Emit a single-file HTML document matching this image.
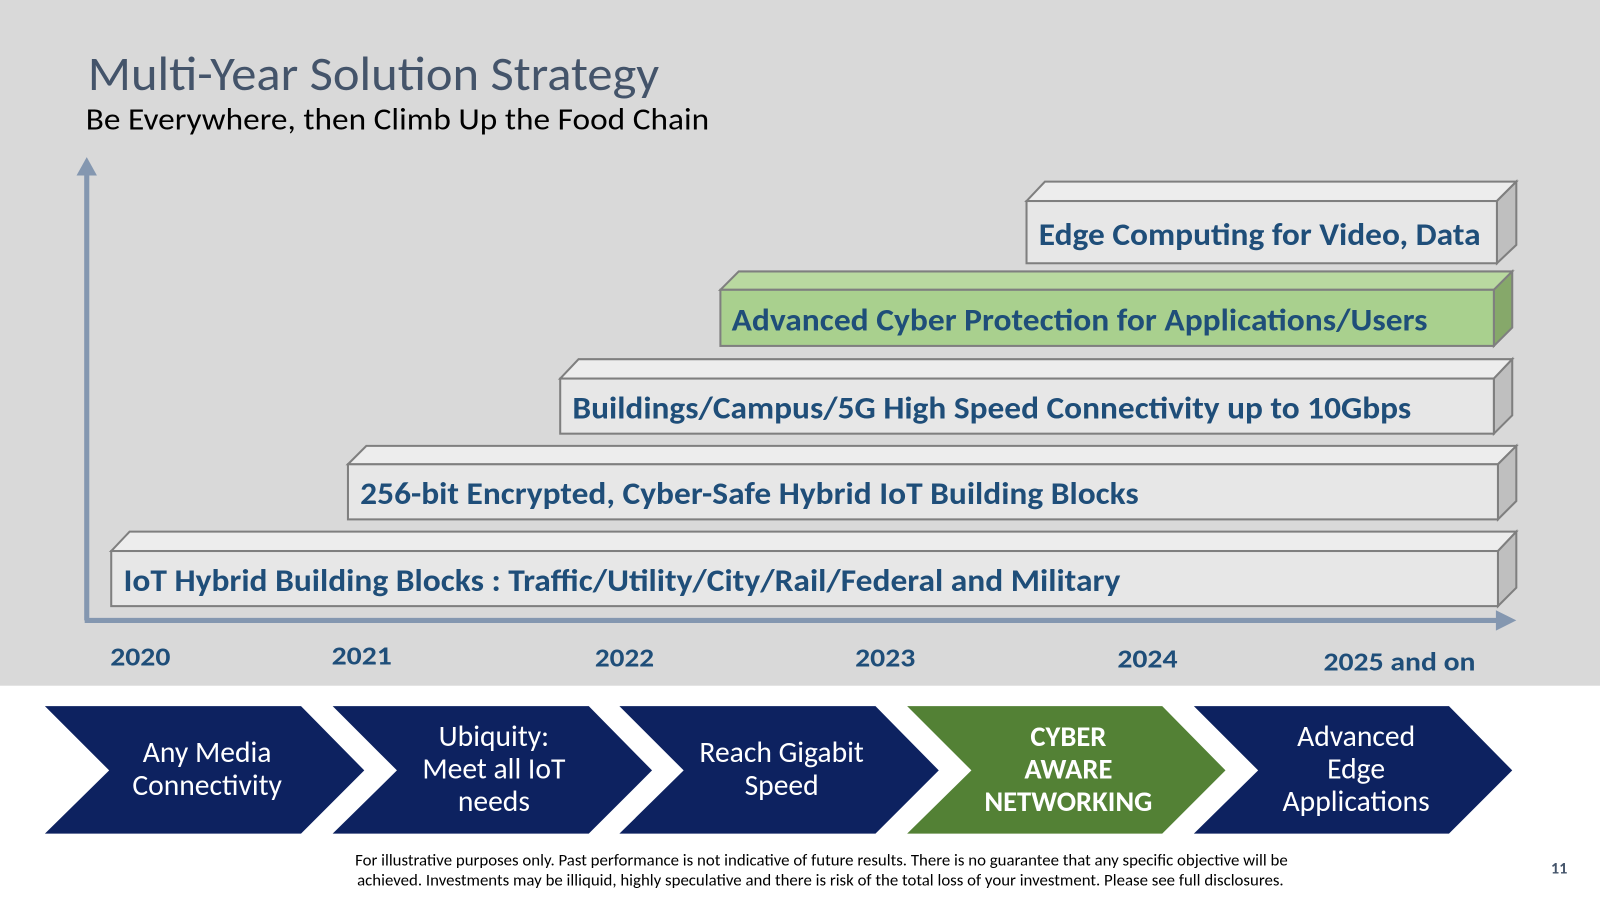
<!DOCTYPE html>
<html><head><meta charset="utf-8"><style>
body{margin:0;width:1600px;height:900px;overflow:hidden;background:#fff;font-family:"Liberation Sans",sans-serif}
svg text{font-family:Carlito,Calibri,"Liberation Sans",sans-serif}
</style></head><body>
<svg width="1600" height="900" xmlns="http://www.w3.org/2000/svg">
<g transform="scale(1.0204)">
<rect x="0" y="0" width="1600" height="672" fill="#d9d9d9"/>
<text x="86" y="88" font-size="47" fill="#44546a" textLength="560" lengthAdjust="spacingAndGlyphs">Multi-Year Solution Strategy</text>
<text x="84" y="127" font-size="30" fill="#000" textLength="611" lengthAdjust="spacingAndGlyphs">Be Everywhere, then Climb Up the Food Chain</text>
<line x1="85" y1="170" x2="85" y2="608" stroke="#8497b0" stroke-width="5"/>
<polygon points="75,172 95,172 85,154" fill="#8497b0"/>
<line x1="83" y1="608" x2="1470" y2="608" stroke="#8497b0" stroke-width="5"/>
<polygon points="1466,598 1466,618 1486,608" fill="#8497b0"/>
<g stroke="#7f7f7f" stroke-width="2">
<polygon points="109,540 127,521 1486,521 1468,540" fill="#ededed"/>
<polygon points="1468,540 1486,521 1486,576 1468,594" fill="#bfbfbf"/>
<rect x="109" y="540" width="1359" height="54" fill="#e7e7e7"/>
<polygon points="341,455 359,437 1486,437 1468,455" fill="#ededed"/>
<polygon points="1468,455 1486,437 1486,491 1468,509" fill="#bfbfbf"/>
<rect x="341" y="455" width="1127" height="54" fill="#e7e7e7"/>
<polygon points="549,371 567,352 1482,352 1464,371" fill="#ededed"/>
<polygon points="1464,371 1482,352 1482,407 1464,425" fill="#bfbfbf"/>
<rect x="549" y="371" width="915" height="54" fill="#e7e7e7"/>
<polygon points="706,284 724,266 1482,266 1464,284" fill="#b9d9a0"/>
<polygon points="1464,284 1482,266 1482,321 1464,339" fill="#86a86a"/>
<rect x="706" y="284" width="758" height="55" fill="#a9d08e"/>
<polygon points="1006,197 1024,178 1486,178 1467,197" fill="#ededed"/>
<polygon points="1467,197 1486,178 1486,240 1467,258" fill="#bfbfbf"/>
<rect x="1006" y="197" width="461" height="61" fill="#e7e7e7"/>
</g>
<g font-weight="bold" font-size="31" fill="#1f4e79" lengthAdjust="spacingAndGlyphs">
<text x="121" y="579" textLength="977" lengthAdjust="spacingAndGlyphs">IoT Hybrid Building Blocks : Traffic/Utility/City/Rail/Federal and Military</text>
<text x="353" y="494" textLength="763" lengthAdjust="spacingAndGlyphs">256-bit Encrypted, Cyber-Safe Hybrid IoT Building Blocks</text>
<text x="561" y="410" textLength="822" lengthAdjust="spacingAndGlyphs">Buildings/Campus/5G High Speed Connectivity up to 10Gbps</text>
<text x="717" y="324" textLength="682" lengthAdjust="spacingAndGlyphs">Advanced Cyber Protection for Applications/Users</text>
<text x="1018" y="240" textLength="433" lengthAdjust="spacingAndGlyphs">Edge Computing for Video, Data</text>
</g>
<g font-weight="bold" font-size="26" fill="#1f4e79">
<text x="108" y="652" textLength="59" lengthAdjust="spacingAndGlyphs">2020</text>
<text x="325" y="651" textLength="59" lengthAdjust="spacingAndGlyphs">2021</text>
<text x="583" y="653" textLength="58" lengthAdjust="spacingAndGlyphs">2022</text>
<text x="838" y="653" textLength="59" lengthAdjust="spacingAndGlyphs">2023</text>
<text x="1095" y="654" textLength="59" lengthAdjust="spacingAndGlyphs">2024</text>
<text x="1297" y="657" textLength="149" lengthAdjust="spacingAndGlyphs">2025 and on</text>
</g>
<polygon points="44,692 295,692 357,755 295,817 44,817 107,755" fill="#0d2260"/>
<polygon points="326,692 577,692 639,755 577,817 326,817 389,755" fill="#0d2260"/>
<polygon points="607,692 858,692 920,755 858,817 607,817 670,755" fill="#0d2260"/>
<polygon points="889,692 1139,692 1201,755 1139,817 889,817 952,755" fill="#538135"/>
<polygon points="1170,692 1420,692 1482,755 1420,817 1170,817 1233,755" fill="#0d2260"/>
<g font-size="29" fill="#fff" text-anchor="middle">
<text x="203" y="747">Any Media</text><text x="203" y="779">Connectivity</text>
<text x="484" y="731">Ubiquity:</text><text x="484" y="763">Meet all IoT</text><text x="484" y="795">needs</text>
<text x="766" y="747">Reach Gigabit</text><text x="766" y="779">Speed</text>
<g font-weight="bold" font-size="28"><text x="1047" y="731">CYBER</text><text x="1047" y="763">AWARE</text><text x="1047" y="795">NETWORKING</text></g>
<text x="1329" y="731">Advanced</text><text x="1329" y="763">Edge</text><text x="1329" y="795">Applications</text>
</g>
<g font-size="16" fill="#000">
<text x="348" y="848" textLength="914" lengthAdjust="spacingAndGlyphs">For illustrative purposes only. Past performance is not indicative of future results.  There is no guarantee that any specific objective will be</text>
<text x="350" y="868" textLength="908" lengthAdjust="spacingAndGlyphs">achieved.  Investments may be illiquid, highly speculative and there is risk of the total loss of your investment.  Please see full disclosures.</text>
</g>
<text x="1528" y="856" font-size="16" font-weight="bold" fill="#44546a" text-anchor="middle">11</text>
</g>
</svg>
</body></html>
